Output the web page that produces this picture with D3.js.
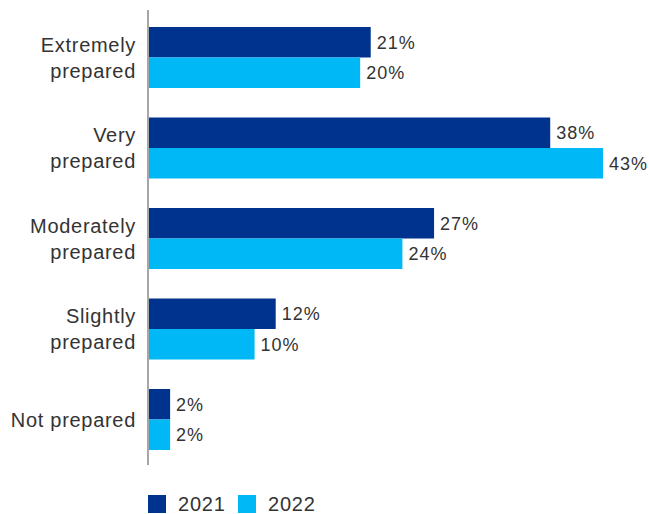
<!DOCTYPE html>
<html><head><meta charset="utf-8">
<script src="https://cdn.jsdelivr.net/npm/d3@7"></script>
<style>body{margin:0;background:#fff}svg{display:block}text{font-family:"Liberation Sans",Arial,sans-serif;fill:#333}</style>
</head><body>
<svg id="c" width="649" height="514"></svg>
<script>
const categories = [["Extremely","prepared"],["Very","prepared"],["Moderately","prepared"],["Slightly","prepared"],["Not prepared"]];
const series = ["2021","2022"];
const values2021 = [21,38,27,12,2];
const values2022 = [20,43,24,10,2];
const colors = ["#00338D","#00B8F5"];

const svg = d3.select("#c");
const x0 = 149;
const x = d3.scaleLinear().domain([0,43]).range([x0, 603]);
const y = d3.scaleBand().domain(d3.range(categories.length)).range([12.25,464.75]).paddingInner(0.326).paddingOuter(0.163);
const ySub = d3.scaleBand().domain(series).range([0,y.bandwidth()]);

const data = [values2021, values2022];
series.forEach((s,si)=>{
  const g = svg.append("g");
  g.selectAll("rect").data(data[si]).join("rect")
    .attr("x", x0).attr("y",(d,i)=>y(i)+ySub(s))
    .attr("width", d=>x(d)-x0).attr("height", ySub.bandwidth())
    .attr("fill", colors[si]);
  g.selectAll("text").data(data[si]).join("text")
    .attr("x", d=>x(d)+6).attr("y",(d,i)=>y(i)+ySub(s)+ySub.bandwidth()/2)
    .attr("dy","0.35em").attr("font-size",18).attr("letter-spacing","1px").text(d=>d+"%");
});

svg.append("line").attr("x1",148).attr("x2",148).attr("y1",10).attr("y2",465)
  .attr("stroke","#a6a6a6").attr("stroke-width",2);

categories.forEach((lines,i)=>{
  const cy = y(i)+y.bandwidth()/2;
  const lh = 26;
  const t = svg.append("text").attr("text-anchor","end").attr("font-size",20).attr("letter-spacing","0.7px");
  lines.forEach((l,j)=>{
    t.append("tspan").attr("x",136).attr("y", cy + (j-(lines.length-1)/2)*lh).attr("dy","0.35em").text(l);
  });
});

const leg = svg.append("g");
const legX = [148, 238];
series.forEach((s,si)=>{
  leg.append("rect").attr("x",legX[si]).attr("y",495).attr("width",18).attr("height",18).attr("fill",colors[si]);
  leg.append("text").attr("x",legX[si]+30).attr("y",504).attr("dy","0.35em").attr("font-size",20).attr("letter-spacing","0.8px").text(s);
});
</script>
</body></html>
